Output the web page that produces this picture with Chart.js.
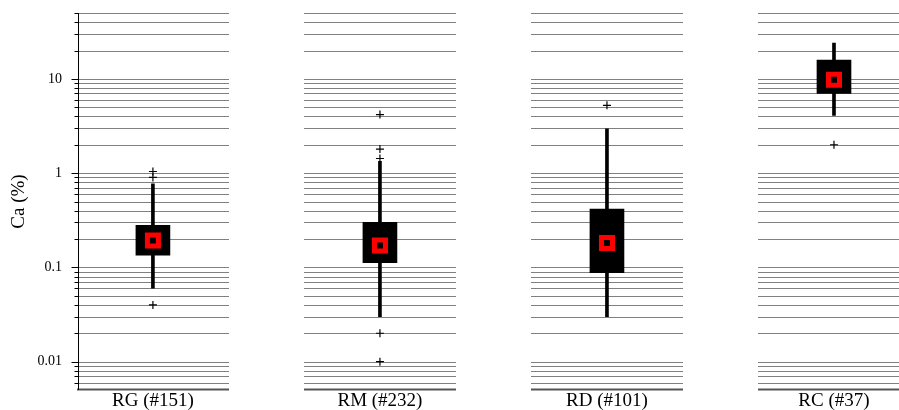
<!DOCTYPE html>
<html>
<head>
<meta charset="utf-8">
<script src="https://cdn.jsdelivr.net/npm/chart.js@4/dist/chart.umd.min.js"></script>
<style>
  html, body { margin: 0; padding: 0; background: #fff; overflow: hidden; }
  #wrap { width: 899px; height: 410px; position: relative; }
  #chart { display: block; }
</style>
</head>
<body>
<div id="wrap"><canvas id="chart"></canvas></div>
<script>
// categories and box statistics (Ca %)
const categories = ["RG (#151)", "RM (#232)", "RD (#101)", "RC (#37)"];
const whiskerLow = [0.06, 0.03, 0.03, 4.1];
const q1 = [0.135, 0.112, 0.088, 7.0];
const median = [0.193, 0.171, 0.181, 9.8];
const q3 = [0.28, 0.30, 0.415, 15.8];
const whiskerHigh = [0.77, 1.33, 2.96, 24];
const outliers = [
    [1.04, 0.9, 0.04],
    [4.18, 1.8, 1.43, 0.02, 0.01],
    [5.24],
    [2.0]
];

const xMin = -0.33;
const xMax = 3.23;
const yMin = 0.005;
const yMax = 50;
const yTickValues = [0.01, 0.1, 1, 10];
const yTickLabels = ["0.01", "0.1", "1", "10"];

// every 1..9 x 10^n line between yMin and yMax
const gridValues = [];
[0.001, 0.01, 0.1, 1, 10].forEach(d => {
    for (let m = 1; m <= 9; m++) {
        const v = Number((m * d).toPrecision(3));
        if (v >= yMin && v <= yMax) gridValues.push(v);
    }
});

const bandHalf = 0.335;
const serif = "'Liberation Serif', 'Times New Roman', serif";

const bandGrid = {
    id: "bandGrid",
    beforeDatasetsDraw(chart) {
        const ctx = chart.ctx;
        const x = chart.scales.x;
        const y = chart.scales.y;
        const area = chart.chartArea;
        ctx.save();

        categories.forEach((c, i) => {
            const x0 = Math.round(x.getPixelForValue(i - bandHalf));
            const x1 = Math.round(x.getPixelForValue(i + bandHalf));
            gridValues.forEach(v => {
                const py = Math.round(y.getPixelForValue(v)) + 0.5;
                ctx.beginPath();
                if (v === yMin) {
                    ctx.strokeStyle = "#555";
                    ctx.lineWidth = 2;
                    ctx.moveTo(x0, py - 1);
                    ctx.lineTo(x1, py - 1);
                } else {
                    ctx.strokeStyle = "#808080";
                    ctx.lineWidth = 1;
                    ctx.moveTo(x0, py);
                    ctx.lineTo(x1, py);
                }
                ctx.stroke();
            });
        });

        // y axis line, tick marks and labels
        const ax = area.left + 0.5;
        ctx.strokeStyle = "#000";
        ctx.lineWidth = 1;
        ctx.beginPath();
        ctx.moveTo(ax, area.top);
        ctx.lineTo(ax, area.bottom);
        ctx.stroke();
        gridValues.forEach(v => {
            if (v === yMin) return;
            const py = Math.round(y.getPixelForValue(v)) + 0.5;
            const len = yTickValues.includes(v) ? 7 : 4;
            ctx.beginPath();
            ctx.moveTo(ax - len, py);
            ctx.lineTo(ax, py);
            ctx.stroke();
        });
        ctx.fillStyle = "#000";
        ctx.font = "14px " + serif;
        ctx.textAlign = "right";
        ctx.textBaseline = "middle";
        yTickValues.forEach((v, k) => {
            ctx.fillText(yTickLabels[k], area.left - 16, y.getPixelForValue(v));
        });

        // category labels under each band
        ctx.font = "19px " + serif;
        ctx.textAlign = "center";
        ctx.textBaseline = "alphabetic";
        categories.forEach((c, i) => {
            ctx.fillText(c, x.getPixelForValue(i), area.bottom + 16);
        });
        ctx.restore();
    }
};

const whiskerData = categories.map((c, i) => ({ x: i, y: [whiskerLow[i], whiskerHigh[i]] }));
const boxData = categories.map((c, i) => ({ x: i, y: [q1[i], q3[i]] }));
const medianData = categories.map((c, i) => ({ x: i, y: median[i] }));
const outlierData = [];
outliers.forEach((list, i) => list.forEach(v => outlierData.push({ x: i, y: v })));

new Chart(document.getElementById("chart"), {
    type: "bar",
    data: {
        datasets: [
            {
                type: "bar",
                data: whiskerData,
                backgroundColor: "#000",
                barThickness: 3,
                grouped: false,
                order: 4
            },
            {
                type: "bar",
                data: boxData,
                backgroundColor: "#000",
                barThickness: 34,
                grouped: false,
                order: 3
            },
            {
                type: "scatter",
                data: outlierData,
                pointStyle: "cross",
                pointRadius: 4,
                borderColor: "#000",
                borderWidth: 1.2,
                order: 2
            },
            {
                type: "scatter",
                data: medianData,
                pointStyle: "rect",
                pointRadius: 7.8,
                backgroundColor: "#000",
                borderColor: "#ff0000",
                borderWidth: 5,
                order: 1
            }
        ]
    },
    options: {
        responsive: true,
        maintainAspectRatio: false,
        animation: false,
        layout: { padding: { top: 13, right: 0, left: 0, bottom: 0 } },
        plugins: {
            legend: { display: false },
            tooltip: { enabled: false }
        },
        scales: {
            x: {
                type: "linear",
                min: xMin,
                max: xMax,
                bounds: "data",
                offset: false,
                grid: { display: false, drawTicks: false },
                border: { display: false },
                afterDataLimits: axis => { axis.min = xMin; axis.max = xMax; },
                afterFit: axis => { axis.height = 20; },
                ticks: { display: false }
            },
            y: {
                type: "logarithmic",
                min: yMin,
                max: yMax,
                grid: { display: false, drawTicks: false },
                border: { display: false },
                afterFit: axis => { axis.width = 78; },
                ticks: { display: false },
                title: {
                    display: true,
                    text: "Ca (%)",
                    color: "#000",
                    font: { family: serif, size: 19 },
                    padding: { top: 8, bottom: 0 }
                }
            }
        }
    },
    plugins: [bandGrid]
});
</script>
</body>
</html>
